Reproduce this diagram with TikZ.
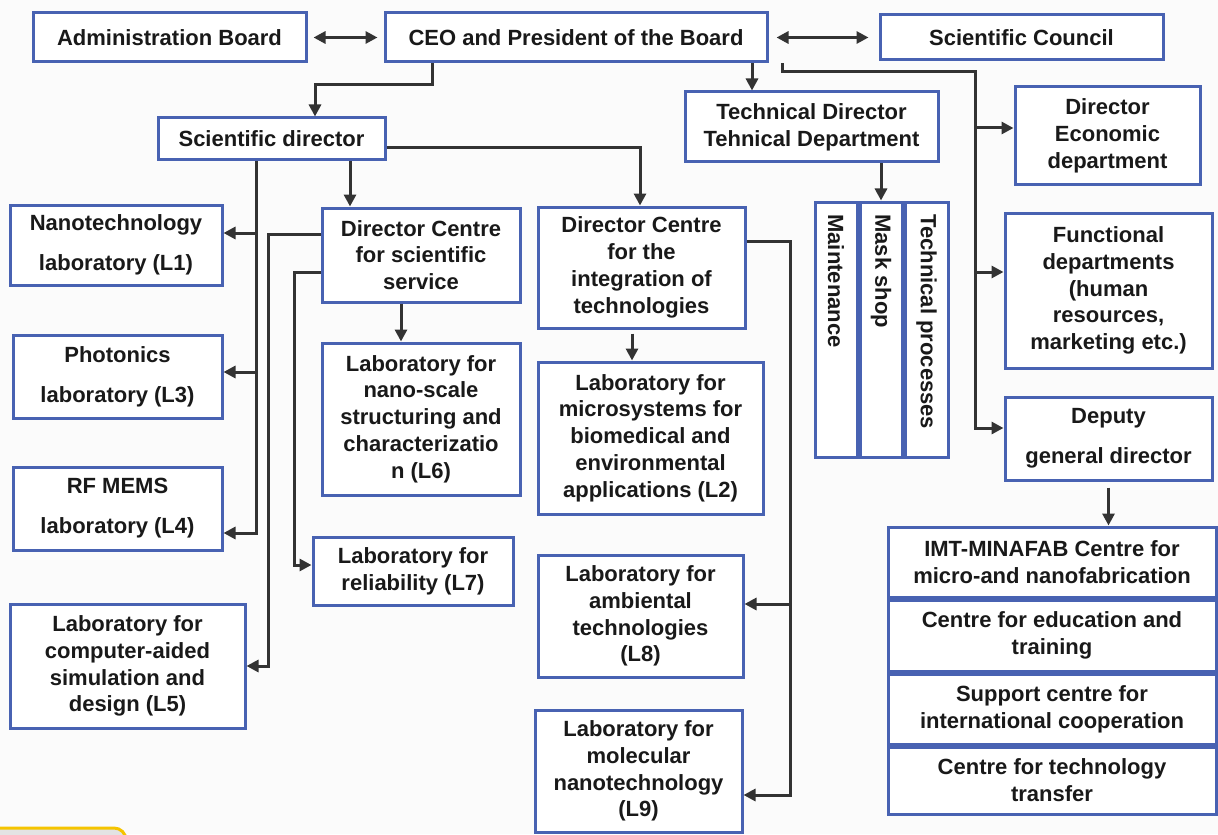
\documentclass[tikz,border=0pt]{standalone}
\usepackage{fontspec}
\setmainfont{Liberation Sans}
\usetikzlibrary{arrows.meta,fit}
\definecolor{boxblue}{RGB}{72,98,178}
\definecolor{arrgray}{RGB}{51,51,51}
\definecolor{txt}{RGB}{25,25,25}
\definecolor{bg}{RGB}{251,251,251}
\definecolor{tabyellow}{RGB}{245,196,0}
\newcommand\bxt[6]{\node[box,fit={(#2,#3)(#4,#5)}] (#1) {};
  \node[lbl,align=center] (#1T) at (#1.center) {#6};}
\begin{document}
\begin{tikzpicture}[x=0.5pt,y=-0.5pt,
  box/.style={draw=boxblue,line width=1.5pt,fill=white,inner sep=0pt},
  lbl/.style={inner sep=0pt,text=txt,font=\fontsize{11}{13.4}\selectfont\bfseries},
  conn/.style={draw=arrgray,line width=1.5pt},
  arr/.style={conn,-{Triangle[length=6pt,width=6pt]}},
  dbl/.style={conn,{Triangle[length=6pt,width=6pt]}-{Triangle[length=6pt,width=6pt]}}]
\useasboundingbox (0,0) rectangle (1218,834);
\fill[bg] (0,0) rectangle (1218,834);
\draw[draw=tabyellow,line width=1.5pt,fill=gray!22,rounded corners=6pt] (-20,828) rectangle (126,880);

% top row
\bxt{admin}{33}{13}{306}{62}{Administration Board}
\bxt{ceo}{385}{13}{767}{62}{CEO and President of the Board}
\bxt{council}{880}{15}{1163}{60}{Scientific Council}

\bxt{sd}{158}{118}{385}{160}{Scientific director}
\bxt{td}{685}{92}{938}{162}{Technical Director\\Tehnical Department}
\bxt{econ}{1015}{87}{1200}{185}{Director\\Economic\\department}

% left column
\bxt{l1}{10}{205}{222}{285}{Nanotechnology\\[6.6pt]laboratory (L1)}
\bxt{l3}{13}{335}{222}{418}{Photonics\\[6.6pt]laboratory (L3)}
\bxt{l4}{13}{467}{222}{550}{RF MEMS\\[6.6pt]laboratory (L4)}
\bxt{l5}{10}{604}{245}{728}{Laboratory for\\computer-aided\\simulation and\\design (L5)}

% centre columns
\bxt{dcs}{322}{208}{520}{302}{Director Centre\\for scientific\\service}
\bxt{l6}{322}{343}{520}{495}{Laboratory for\\nano-scale\\structuring and\\characterizatio\\n (L6)}
\bxt{l7}{313}{537}{513}{605}{Laboratory for\\reliability (L7)}
\bxt{dci}{538}{207}{745}{328}{Director Centre\\for the\\integration of\\technologies}
\bxt{l2}{538}{362}{763}{514}{Laboratory for\\microsystems for\\biomedical and\\environmental\\applications (L2)}
\bxt{l8}{538}{555}{743}{677}{Laboratory for\\ambiental\\technologies\\(L8)}
\bxt{l9}{535}{710}{742}{832}{Laboratory for\\molecular\\nanotechnology\\(L9)}

% technical department columns
\node[box,fit={(815,202)(857,457)}] (maint) {};
\node[box,fit={(860,202)(902,457)}] (mask) {};
\node[box,fit={(905,202)(948,457)}] (techp) {};
\node[lbl,rotate=-90,anchor=west] (maintT) at (836,214) {Maintenance};
\node[lbl,rotate=-90,anchor=west] (maskT) at (881,214) {Mask shop};
\node[lbl,rotate=-90,anchor=west] (techpT) at (926.5,214) {Technical processes};

% right column
\bxt{func}{1005}{213}{1212}{368}{Functional\\departments\\(human\\resources,\\marketing etc.)}
\bxt{deputy}{1005}{397}{1212}{480}{Deputy\\[6.6pt]general director}

\bxt{c1}{888}{527}{1216}{597}{IMT-MINAFAB Centre for\\micro-and nanofabrication}
\bxt{c2}{888}{600}{1216}{671}{Centre for education and\\training}
\bxt{c3}{888}{674}{1216}{744}{Support centre for\\international cooperation}
\bxt{c4}{888}{747}{1216}{814}{Centre for technology\\transfer}

% connectors
\draw[dbl,shorten <=3pt,shorten >=3pt] (admin.east) -- (ceo.west);
\draw[dbl,shorten <=4pt,shorten >=5pt] (ceo.east) -- (council.west);

\coordinate (k1) at (432,85); \coordinate (k2) at (315,85);
\draw[arr] (ceo.south -| k1) -- (k1) -- (k2) -- (sd.north -| k2);
\coordinate (k3) at (752,75);
\draw[arr] (ceo.south -| k3) -- (td.north -| k3);
\coordinate (k4) at (782,72); \coordinate (k5) at (975,72);
\coordinate (e1) at (975,128); \coordinate (e2) at (975,272); \coordinate (e3) at (975,428);
\draw[arr] (ceo.south -| k4) -- (k4) -- (k5) -- (e3) -- (deputy.west |- e3);
\draw[arr] (e1) -- (econ.west |- e1);
\draw[arr] (e2) -- (func.west |- e2);
\draw[arr] (td.south -| mask.north) -- (mask.north);

\coordinate (k6) at (640,148);
\draw[arr] (sd.east |- k6) -- (k6) -- (dci.north -| k6);
\coordinate (k7) at (350,170);
\draw[arr] (sd.south -| k7) -- (dcs.north -| k7);
\coordinate (t0) at (256,170); \coordinate (t1) at (256,233);
\coordinate (t3) at (256,372); \coordinate (t4) at (256,533);
\draw[arr] (sd.south -| t0) -- (t4) -- (l4.east |- t4);
\draw[arr] (t1) -- (l1.east |- t1);
\draw[arr] (t3) -- (l3.east |- t3);

\coordinate (k9) at (268,234);
\draw[arr] (dcs.west |- k9) -- (k9) |- (l5.east);
\coordinate (k10) at (294,272); \coordinate (k11) at (294,565);
\draw[arr] (dcs.west |- k10) -- (k10) -- (k11) -- (l7.west |- k11);
\coordinate (k12) at (401,310);
\draw[arr] (dcs.south -| k12) -- (l6.north -| k12);

\coordinate (k13) at (632,340);
\draw[arr,shorten <=2pt] (dci.south -| k13) -- (l2.north -| k13);
\coordinate (k14) at (790,241); \coordinate (k15) at (790,604); \coordinate (k16) at (790,795);
\draw[arr] (dci.east |- k14) -- (k14) -- (k16) -- (l9.east |- k16);
\draw[arr] (k15) -- (l8.east |- k15);

\draw[arr,shorten <=3pt] (deputy.south) -- (c1.north -| deputy.south);
\end{tikzpicture}
\end{document}
